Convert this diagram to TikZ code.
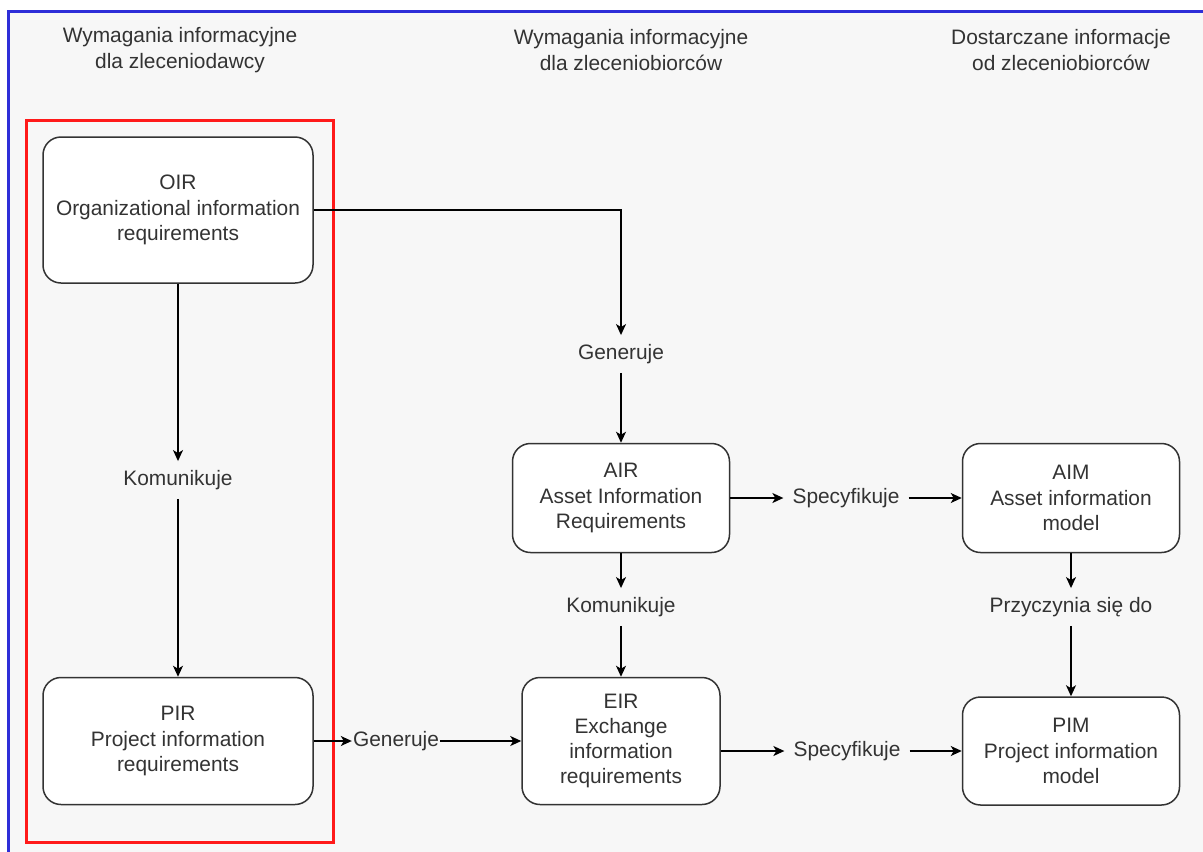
\documentclass[tikz,border=0pt]{standalone}
\usepackage{fontspec}
\setmainfont{Liberation Sans}
\usetikzlibrary{arrows.meta}

\tikzset{
  reqbox/.style={draw=boxline, fill=white, line width=1.5pt, rounded corners=18pt,
    align=center, inner sep=0pt, text=txt},
  edgelabel/.style={inner xsep=9pt, inner ysep=9pt, text height=15pt, text depth=4.5pt, text=txt},
  flow/.style={draw=black, line width=1.5pt, -{Stealth[length=11pt,width=10pt,inset=3pt]}},
  colhead/.style={align=center, text=txt},
}

\begin{document}
\begin{tikzpicture}[x=1pt, y=-1pt, font=\fontsize{20.9}{25.3}\selectfont]
\definecolor{bg}{HTML}{F7F7F7}
\definecolor{txt}{HTML}{333333}
\definecolor{boxline}{HTML}{333333}
\definecolor{frame}{HTML}{2E2ED8}
\definecolor{group}{HTML}{FF1A1A}
\useasboundingbox (0,0) rectangle (1203,852);
% background and frames
\fill[bg] (8,11) rectangle (1215,865);
\draw[frame, line width=3pt] (8,865) -- (8,11) -- (1215,11);
\draw[group, line width=3pt] (26,120) rectangle (333,842);

% column headings
\node[colhead] (head1) at (180,50) {Wymagania informacyjne\\dla zleceniodawcy};
\node[colhead] (head2) at (631,50) {Wymagania informacyjne\\dla zleceniobiorców};
\node[colhead] (head3) at (1061,50) {Dostarczane informacje\\od zleceniobiorców};

% requirement boxes
\node[reqbox, minimum width=270pt, minimum height=146pt] (oir) at (178,210) {OIR\\Organizational information\\requirements};
\node[reqbox, minimum width=270pt, minimum height=127pt] (pir) at (178,741) {PIR\\Project information\\requirements};
\node[reqbox, minimum width=217pt, minimum height=109pt] (air) at (621,498) {AIR\\Asset Information\\Requirements};
\node[reqbox, minimum width=198pt, minimum height=127pt] (eir) at (621,741) {EIR\\Exchange\\information\\requirements};
\node[reqbox, minimum width=217pt, minimum height=109pt] (aim) at (1071,498) {AIM\\Asset information\\model};
\node[reqbox, minimum width=217pt, minimum height=108pt] (pim) at (1071,751) {PIM\\Project information\\model};

% connector labels
\node[edgelabel] (kom1) at (178,480) {Komunikuje};
\node[edgelabel] (gen1) at (621,354) {Generuje};
\node[edgelabel, inner xsep=1pt] (gen2) at (396,741) {Generuje};
\node[edgelabel] (kom2) at (621,607) {Komunikuje};
\node[edgelabel] (spec1) at (846,498) {Specyfikuje};
\node[edgelabel] (spec2) at (847,751) {Specyfikuje};
\node[edgelabel] (przy) at (1071,607) {Przyczynia się do};

% connectors
\draw[flow] (oir.south) -- (kom1.north);
\draw[flow] (kom1.south) -- (pir.north);
\draw[flow] (oir.east) -| (gen1.north);
\draw[flow] (gen1.south) -- (air.north);
\draw[flow] (pir.east) -- (gen2.west);
\draw[flow] (gen2.east) -- (eir.west);
\draw[flow] (air.south) -- (kom2.north);
\draw[flow] (kom2.south) -- (eir.north);
\draw[flow] (air.east) -- (spec1.west);
\draw[flow] (spec1.east) -- (aim.west);
\draw[flow] (aim.south) -- (przy.north);
\draw[flow] (przy.south) -- (pim.north);
\draw[flow] (eir.east |- pim.west) -- (spec2.west |- pim.west);
\draw[flow] (spec2.east |- pim.west) -- (pim.west);
\end{tikzpicture}
\end{document}
